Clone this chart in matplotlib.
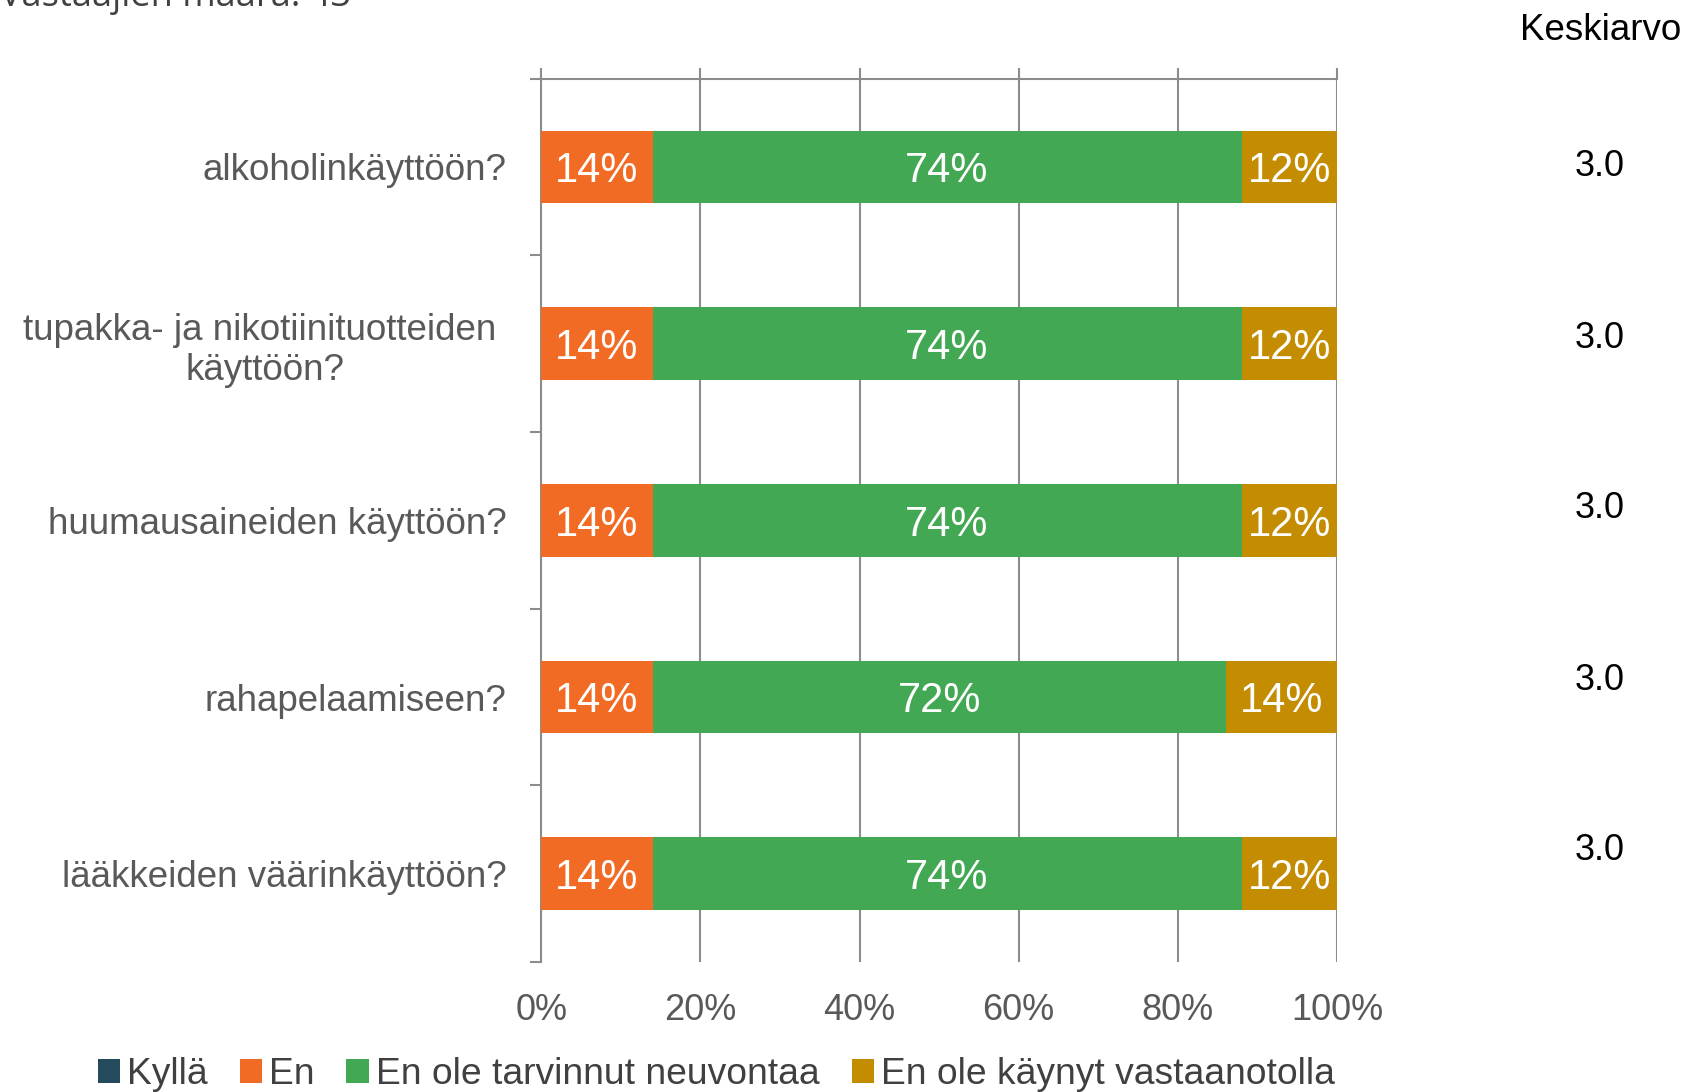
import matplotlib.pyplot as plt
import numpy as np

plt.rcParams['font.family'] = ['Liberation Sans', 'DejaVu Sans']

categories = ['alkoholinkäyttöön?',
              'tupakka- ja nikotiinituotteiden \nkäyttöön?',
              'huumausaineiden käyttöön?',
              'rahapelaamiseen?',
              'lääkkeiden väärinkäyttöön?']
series = ['Kyllä', 'En', 'En ole tarvinnut neuvontaa', 'En ole käynyt vastaanotolla']
kylla = [0, 0, 0, 0, 0]
en = [14, 14, 14, 14, 14]
ei_tarvinnut = [74, 74, 74, 72, 74]
ei_kaynyt = [12, 12, 12, 14, 12]
keskiarvo = ['3.0', '3.0', '3.0', '3.0', '3.0']
colors = ['#244B5C', '#F26B24', '#43A853', '#C48C00']

fig = plt.figure(figsize=(16.86, 10.92), dpi=100)
ax = fig.add_axes([0.321, 0.119, 0.472, 0.809])

y = np.arange(len(categories))
left = np.zeros(len(categories))
for name, vals, col in zip(series, [kylla, en, ei_tarvinnut, ei_kaynyt], colors):
    vals = np.array(vals, dtype=float)
    ax.barh(y, vals, left=left, height=0.41, color=col, label=name, zorder=3)
    for yi, l, v in zip(y, left, vals):
        if v > 0:
            ax.text(l + v / 2, yi + 0.025, f'{v:.0f}%', ha='center', va='center',
                    color='white', fontsize=30, zorder=4)
    left += vals

ax.set_xlim(0, 100)
ax.set_ylim(4.5, -0.5)
ax.set_xticks(np.arange(0, 101, 20))
ax.set_xticklabels([f'{v}%' for v in range(0, 101, 20)], fontsize=26, color='#595959')
ax.xaxis.set_ticks_position('top')
ax.tick_params(axis='x', which='both', labeltop=False, labelbottom=True,
               length=8, color='#8C8C8C', width=1.5, pad=14)
ax.grid(axis='x', color='#8C8C8C', linewidth=1.5, zorder=0)

ax.set_yticks(y)
ax.set_yticklabels(categories, fontsize=26.5, color='#595959', multialignment='center')
ax.tick_params(axis='y', which='major', length=0, pad=25)
ax.set_yticks(np.arange(-0.5, 5, 1), minor=True)
ax.tick_params(axis='y', which='minor', length=8, color='#8C8C8C', width=1.5)

for s in ['right', 'bottom']:
    ax.spines[s].set_visible(False)
for s in ['left', 'top']:
    ax.spines[s].set_color('#8C8C8C')
    ax.spines[s].set_linewidth(1.5)

fig.text(0.997, 1 - 31 / 1092, 'Keskiarvo', ha='right', va='center', fontsize=26.5, color='black')
for i, k in enumerate(keskiarvo):
    fig.text(0.949, 1 - (167 + 171 * i) / 1092, k, ha='center', va='center',
             fontsize=26, color='black')

fig.text(0.0, 1 - 6 / 1092, 'Vastaajien määrä: 43', ha='left', va='baseline',
         fontsize=26, color='#404040', family=['Open Sans', 'DejaVu Sans'])

fig.legend(loc='center left', bbox_to_anchor=(0.049, 0.016), ncol=4, frameon=False,
           fontsize=26.8, handlelength=0.6, handleheight=0.6, handletextpad=0.2,
           columnspacing=0.85, labelcolor='#404040', borderaxespad=0)

fig.savefig('out.png', dpi=100)
